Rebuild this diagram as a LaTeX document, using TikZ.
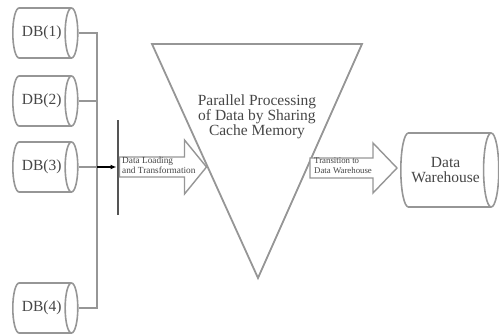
\documentclass[tikz,border=0pt]{standalone}
\usepackage{fontspec}
\setmainfont{Liberation Serif}
\usetikzlibrary{shapes.geometric,arrows.meta,positioning,calc}

\definecolor{linegray}{RGB}{150,150,150}
\definecolor{textgray}{RGB}{70,70,70}
\definecolor{bargray}{RGB}{85,85,85}

\tikzset{
	db/.style={cylinder, draw=linegray, line width=1.6pt, aspect=0.9,
		minimum width=50pt, minimum height=65pt, inner sep=0pt, align=center,
		text=textgray, font=\fontsize{15.5}{15}\selectfont},
	bus/.style={draw=linegray, line width=1.2pt},
	blockarrow/.style={draw=linegray, line width=1.4pt, fill=white, line join=miter},
	small/.style={text=textgray, font=\fontsize{9.3}{10}\selectfont, align=left, inner sep=0pt}
}

\begin{document}
\begin{tikzpicture}[x=1pt, y=-1pt]
		
		\useasboundingbox (0,0) rectangle (499,335);
		
		% Databases on the left
		\node[db, anchor=west] (db1) at (12,33) {DB(1)};
		\node[db, anchor=west] (db2) at (12,101) {DB(2)};
		\node[db, anchor=west] (db3) at (12,167) {DB(3)};
		\node[db, anchor=west] (db4) at (12,308) {DB(4)};
		
		% Collecting line
		\coordinate (trunk) at (97,0);
		\draw[bus] (db1.east) -| (trunk |- db4.east) -- (db4.east);
		\draw[bus] (db2.east) -- (db2.east -| trunk);
		\draw[bus] (db3.east) -- (db3.east -| trunk);
		
		% Bar and arrow into it
		\node[fill=bargray, minimum width=2.6pt, minimum height=95pt, inner sep=0pt] (bar) at (118,167) {};
		\draw[-{Latex[length=6pt,width=5pt]}, line width=1.4pt] (db3.east -| trunk) -- (bar.west |- db3.east);
		
		% Processing triangle
		\coordinate (tl) at (152,44);
		\coordinate (tr) at (362,44);
		\coordinate (tb) at (258,278);
		\draw[draw=linegray, line width=1.8pt, line join=miter] (tl) -- (tr) -- (tb) -- cycle;
		\node[text=textgray, font=\fontsize{15.5}{15}\selectfont, align=center] (proc) at (257,117)
			{Parallel Processing\\of Data by Sharing\\Cache Memory};
		
		% Data warehouse
		\node[db, anchor=west, aspect=0.6, minimum width=74pt, minimum height=98pt] (dw) at (400,170) {Data\\Warehouse};
		
		% Block arrows
		\coordinate (inL) at (bar.east |- 0,167);
		\draw[blockarrow] (inL) ++(0,-10) -- ++(65,0) -- ++(0,-17) -- ++(22,27)
			-- ++(-22,27) -- ++(0,-17) -- ++(-65,0) -- cycle;
		\node[small, anchor=west] (load) at (122,165) {Data Loading\\and Transformation};
		
		\coordinate (inR) at (310,168);
		\draw[blockarrow] (inR) ++(0,-10) -- ++(63,0) -- ++(0,-15) -- ++(24,25)
			-- ++(-24,25) -- ++(0,-15) -- ++(-63,0) -- cycle;
		\node[small, anchor=west, font=\fontsize{8.8}{10}\selectfont] (trans) at (314,166) {Transition to\\Data Warehouse};
		
	\end{tikzpicture}
\end{document}
